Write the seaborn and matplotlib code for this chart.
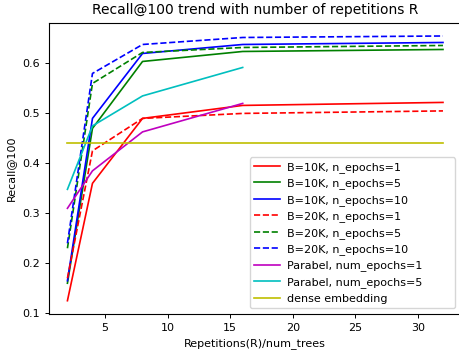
import matplotlib
matplotlib.use("Agg")
import matplotlib.pyplot as plt
import seaborn as sns
import pandas as pd

reps = [2, 4, 8, 16, 32]
reps_parabel = [2, 4, 8, 16]

b10k_e1 = [0.125, 0.36, 0.49, 0.516, 0.522]
b10k_e5 = [0.16, 0.47, 0.604, 0.624, 0.628]
b10k_e10 = [0.165, 0.49, 0.62, 0.638, 0.642]
b20k_e1 = [0.17, 0.425, 0.49, 0.50, 0.505]
b20k_e5 = [0.23, 0.56, 0.622, 0.632, 0.636]
b20k_e10 = [0.24, 0.58, 0.638, 0.652, 0.655]
parabel_e1 = [0.31, 0.385, 0.463, 0.52]
parabel_e5 = [0.348, 0.475, 0.535, 0.592]
dense = [0.44, 0.44]
dense_x = [2, 32]

series = [
    ("B=10K, n_epochs=1", reps, b10k_e1, "r", "-"),
    ("B=10K, n_epochs=5", reps, b10k_e5, "g", "-"),
    ("B=10K, n_epochs=10", reps, b10k_e10, "b", "-"),
    ("B=20K, n_epochs=1", reps, b20k_e1, "r", "--"),
    ("B=20K, n_epochs=5", reps, b20k_e5, "g", "--"),
    ("B=20K, n_epochs=10", reps, b20k_e10, "b", "--"),
    ("Parabel, num_epochs=1", reps_parabel, parabel_e1, "m", "-"),
    ("Parabel, num_epochs=5", reps_parabel, parabel_e5, "c", "-"),
    ("dense embedding", dense_x, dense, "y", "-"),
]

fig, ax = plt.subplots(figsize=(4.59, 3.5), dpi=100)
for label, xs, ys, c, ls in series:
    df = pd.DataFrame({"x": xs, "y": ys})
    sns.lineplot(data=df, x="x", y="y", ax=ax, color=c, linestyle=ls, label=label,
                 linewidth=1.2)

ax.set_title("Recall@100 trend with number of repetitions R", fontsize=10)
ax.set_xlabel("Repetitions(R)/num_trees", fontsize=8)
ax.set_ylabel("Recall@100", fontsize=8)
ax.tick_params(labelsize=8, length=3, width=0.7)
for s in ax.spines.values():
    s.set_linewidth(0.8)
ax.legend(loc="lower right", fontsize=8, handlelength=2.3, handletextpad=0.6,
          borderaxespad=0.0, mode="expand",
          bbox_to_anchor=(0.487, 0.0206, 0.496, 0.0))
fig.subplots_adjust(left=0.106, right=1.006, top=0.935, bottom=0.103)
fig.savefig("out.png", dpi=100)
